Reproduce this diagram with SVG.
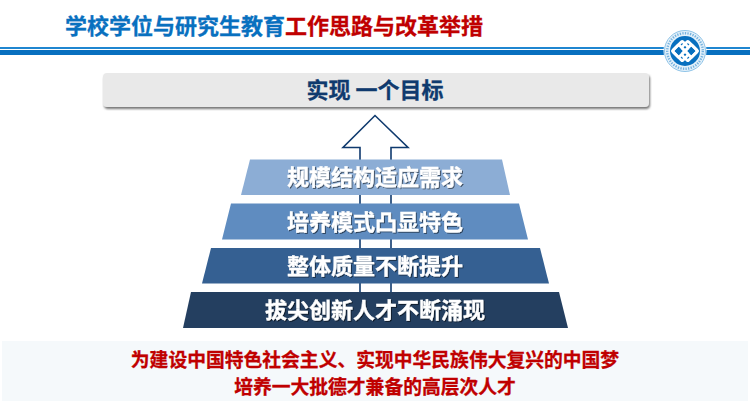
<svg xmlns="http://www.w3.org/2000/svg" width="750" height="402" viewBox="0 0 750 402">
<style>
text{font-family:"Noto Sans CJK SC","Liberation Sans",sans-serif;font-weight:700;text-anchor:middle}
.lvl{font-size:22px;fill:#fff;stroke:#fff;stroke-width:0.3;filter:url(#ts)}
.red{font-size:18.8px;fill:#c00000;stroke:#c00000;stroke-width:0.3}
</style>
<defs>
<filter id="ts" x="-5%" y="-20%" width="110%" height="140%"><feDropShadow dx="1" dy="1" stdDeviation="0.7" flood-color="#000" flood-opacity="0.55"/></filter>
<filter id="bs" x="-2%" y="-10%" width="104%" height="125%"><feDropShadow dx="1" dy="2" stdDeviation="0.8" flood-color="#555" flood-opacity="0.8"/></filter>
</defs>
<rect width="750" height="402" fill="#fff"/>
<g id="header">
<rect x="0" y="47" width="750" height="2" fill="#1f86d0"/>
<rect x="0" y="50" width="750" height="5" fill="#0870bf"/>
<text x="65" y="34" font-size="22" style="text-anchor:start;stroke-width:0.3"><tspan fill="#0870bf" stroke="#0870bf">学校学位与研究生教育</tspan><tspan fill="#c00000" stroke="#c00000">工作思路与改革举措</tspan></text>
</g>
<g id="logo">
<circle cx="685" cy="51" r="21.500" fill="#fff"/>
<circle cx="685" cy="51" r="20.500" fill="#e4f1fa" stroke="#8fc4e8" stroke-width="1"/>
<circle cx="685" cy="51" r="17.800" fill="none" stroke="#5aa3d8" stroke-width="2.400" stroke-dasharray="1.300 1.300" opacity="0.8"/>
<circle cx="685" cy="51" r="15" fill="#0870bf"/>
<g fill="none" stroke="#fff" stroke-width="2.800" stroke-linejoin="round" transform="rotate(45 685 51)">
<rect x="676" y="46" width="9" height="14" rx="1"/>
<rect x="685" y="42" width="9" height="14" rx="1"/>
<rect x="680" y="42" width="14" height="9" rx="1"/>
<rect x="676" y="51" width="14" height="9" rx="1"/>
</g>
</g>
<g id="goal">
<rect x="103" y="73" width="546" height="34" rx="4" fill="#e9e9e9" filter="url(#bs)"/>
<text x="375" y="98" font-size="22" fill="#0f3a6e" stroke="#0f3a6e" stroke-width="0.3">实现 一个目标</text>
</g>
<g id="connectors">
<path d="M360 293V147.500H343L375 115.500L408 147.500H391V293" fill="#fff" stroke="#0f3a6e" stroke-width="1.600"/>
</g>
<g id="level-4">
<polygon points="250,159.500 502,159.500 510,195 241,195" fill="#8cadd5"/>
<text class="lvl" x="375" y="185">规模结构适应需求</text>
</g>
<g id="level-3">
<polygon points="231,203.500 519,203.500 528,239.500 222,239.500" fill="#5f8cc0"/>
<text class="lvl" x="375" y="230">培养模式凸显特色</text>
</g>
<g id="level-2">
<polygon points="211,248 540,248 549,283.500 202,283.500" fill="#356092"/>
<text class="lvl" x="375" y="274">整体质量不断提升</text>
</g>
<g id="level-1">
<polygon points="191,292 559,292 568,328 183,328" fill="#243f60"/>
<text class="lvl" x="375" y="318">拔尖创新人才不断涌现</text>
</g>
<g id="summary">
<rect x="2" y="341" width="746" height="60" fill="#f5f9fb"/>
<text class="red" x="375" y="367">为建设中国特色社会主义、实现中华民族伟大复兴的中国梦</text>
<text class="red" x="375" y="393.500">培养一大批德才兼备的高层次人才</text>
</g>
</svg>
